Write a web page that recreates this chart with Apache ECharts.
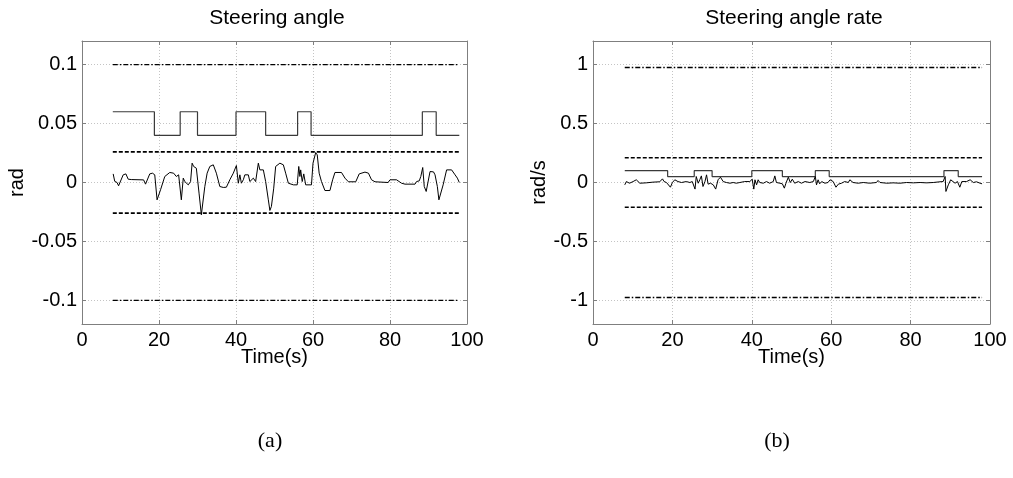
<!DOCTYPE html>
<html>
<head>
<meta charset="utf-8">
<script src="https://cdn.jsdelivr.net/npm/echarts@6/dist/echarts.min.js"></script>
<style>
  html, body { margin: 0; padding: 0; background: #fff; }
  #chart { width: 1013px; height: 478px; }
</style>
</head>
<body>
<div id="chart"></div>
<script>
// Steering angle signal (rad) over time (s)
const angleTime = [8.1, 8.5, 9.1, 9.5, 10, 10.7, 11.4, 12, 12.8, 16, 16.5, 17, 17.6, 18.3, 18.9, 19.5, 19.8, 20.4, 21.5, 22.8, 23.8, 24.5, 25.1, 25.8, 26.3, 26.7, 27.6, 28.2, 28.6, 29, 29.7, 30.4, 31, 31.3, 31.9, 32.5, 33.2, 34.1, 34.9, 35.8, 36.7, 37.5, 38.4, 39.3, 40.1, 40.6, 41, 41.4, 41.9, 42.3, 43.2, 43.6, 44.5, 45.1, 45.8, 46.2, 47.1, 47.7, 48.4, 48.8, 49.2, 49.8, 50.3, 51.4, 52.3, 52.9, 53.6, 54.9, 55.9, 56.3, 56.6, 56.8, 57.2, 57.6, 58.1, 59.6, 60, 60.7, 61.1, 61.6, 62.2, 63.1, 64.4, 65.1, 65.7, 67.4, 68.3, 69.2, 71.1, 72, 73.5, 74.4, 75.2, 76.1, 79.5, 80, 81.7, 83, 83.9, 86.5, 86.9, 87.6, 88, 88.5, 88.9, 89.4, 89.8, 90.4, 91.3, 91.7, 92.3, 92.7, 93.2, 93.8, 94.7, 96, 96.9, 97.5, 98];
const angleValue = [0.0073, 0.001, 0.0, -0.0028, -0.002, 0.0065, 0.0073, 0.0028, 0.0025, 0.0022, -0.0014, -0.0014, 0.0073, 0.0079, 0.0065, -0.0147, -0.015, -0.0062, 0.0051, 0.0085, 0.0079, 0.0051, 0.0065, -0.0147, 0.0037, 0.0008, -0.002, 0.0008, 0.0164, 0.0136, 0.0121, -0.009, -0.0274, -0.026, -0.0034, 0.0079, 0.0136, 0.015, 0.0079, -0.0034, -0.0042, -0.004, 0.0023, 0.0079, 0.0144, -0.0006, 0.0065, -0.0006, 0.0023, 0.0065, 0.0065, 0.0008, 0.0037, 0.0008, 0.0164, 0.0107, 0.0107, 0.0008, -0.0147, -0.0237, -0.0203, -0.0048, 0.0136, 0.0164, 0.015, 0.0079, -0.0006, -0.002, -0.002, 0.0136, 0.0051, 0.0107, 0.0008, 0.0073, -0.002, -0.002, 0.0164, 0.0254, 0.0234, 0.0079, 0.0008, -0.0068, -0.0068, 0.0023, 0.0085, 0.0085, 0.0037, 0.0006, 0.0006, 0.0073, 0.0088, 0.0079, 0.0023, 0.0006, 0, 0.0023, 0.0023, -0.0006, -0.0014, -0.0014, 0.0008, 0.0014, 0.0051, 0.0127, -0.0034, -0.0076, -0.0062, 0.0093, 0.009, 0.0065, -0.0034, -0.0147, -0.0133, -0.002, 0.0107, 0.0107, 0.0065, 0.0037, 0];

// Steering angle rate signal (rad/s) over time (s)
const rateTime = [8, 8.4, 9.2, 10.1, 10.9, 11.8, 13.4, 15.1, 16.8, 17.5, 17.9, 18.5, 18.9, 19.5, 20, 20.6, 21.4, 22.3, 23.5, 24.4, 25, 25.5, 25.7, 26, 26.5, 26.9, 27.3, 27.7, 28.2, 28.6, 29, 29.6, 30.3, 30.9, 31.5, 32.1, 32.8, 33.6, 34.5, 35.3, 36.1, 37, 38.2, 38.7, 39.5, 40.1, 40.5, 40.8, 41.2, 41.6, 42, 42.9, 43.7, 44.5, 45.4, 45.8, 46.2, 47.1, 47.7, 48.2, 48.6, 49.2, 49.7, 50.2, 50.8, 51.7, 52.5, 53.4, 54.6, 55.5, 56, 56.3, 56.7, 57.1, 57.6, 58.4, 59.2, 59.7, 60.1, 60.5, 61.2, 61.8, 62.6, 63.4, 64.3, 64.7, 65.1, 65.5, 66.8, 68.1, 69.7, 71.4, 71.8, 72.3, 74, 75.6, 77.3, 79, 80.7, 82.4, 84, 85.7, 87.4, 88.2, 88.7, 88.9, 89.5, 90.1, 90.6, 91.2, 91.8, 92.4, 92.9, 93.3, 94.1, 95, 95.8, 96.6, 97.5, 98];
const rateValue = [-0.02, 0.008, -0.006, 0.008, 0.023, -0.006, -0.003, 0.003, 0.006, 0.031, 0.008, 0, 0.014, -0.04, 0, 0.023, 0.008, 0, 0.008, 0, 0.008, 0, -0.056, 0.051, -0.006, 0.023, 0.056, -0.034, 0.008, 0.065, -0.014, -0.006, -0.02, -0.056, 0.023, 0.045, 0.008, 0, -0.006, 0, -0.006, 0, 0.008, 0.023, 0.008, 0.028, -0.056, 0.023, -0.02, 0.023, 0, -0.006, 0.008, -0.006, 0.008, 0.056, 0, -0.006, -0.011, -0.048, -0.006, 0.045, 0, 0.028, -0.006, 0.008, -0.006, 0.008, 0, 0.008, 0.051, -0.02, 0.023, -0.011, 0.008, -0.006, 0, 0.023, 0.037, 0.008, -0.04, -0.014, -0.006, 0.008, 0, 0.023, 0.023, 0, -0.006, 0, -0.006, 0, 0.017, 0, -0.006, -0.003, -0.006, 0, -0.003, 0, -0.003, 0, 0.006, 0.008, 0.051, -0.076, -0.02, 0.023, 0.008, -0.006, 0.008, -0.04, 0.008, 0.023, 0.008, 0.023, 0, 0.006, -0.006, -0.011];

// Piecewise-constant schedules (value holds until the next switch time)
const switchTimes = [8, 18.8, 25.5, 30, 40, 47.7, 56, 59.5, 88.4, 92, 98];
const angleSchedule = [0.06, 0.04, 0.06, 0.04, 0.06, 0.04, 0.06, 0.04, 0.06, 0.04, 0.04];
const rateSchedule = [0.1, 0.05, 0.1, 0.05, 0.1, 0.05, 0.1, 0.05, 0.1, 0.05, 0.05];

// Constraint levels and the time span they are drawn over
const boundSpan = [8, 98];
const angleHardLimit = 0.1;
const angleSoftLimit = 0.026;
const rateHardLimit = 0.975;
const rateSoftLimit = 0.21;

// Axis ticks
const timeTicks = [0, 20, 40, 60, 80, 100];
const angleTicks = [-0.1, -0.05, 0, 0.05, 0.1];
const rateTicks = [-1, -0.5, 0, 0.5, 1];

const titles = ['Steering angle', 'Steering angle rate'];
const captions = ['(a)', '(b)'];

const SANS = '"Liberation Sans", Arial, sans-serif';
const SERIF = '"Liberation Serif", "Times New Roman", serif';
const BOX = '#7f7f7f';
const TICK_FONT = 20;

const zip = (xs, ys) => xs.map((x, i) => [x, ys[i]]);
const flat = (v) => boundSpan.map(t => [t, v]);

function xAxes(gridIndex) {
  const common = {
    type: 'value', gridIndex, min: timeTicks[0], max: timeTicks[timeTicks.length - 1],
    interval: timeTicks[1] - timeTicks[0],
    axisLine: { show: true, onZero: false, lineStyle: { color: BOX, width: 1 } },
    axisTick: { show: true, inside: true, length: 4, lineStyle: { color: BOX } },
  };
  return [
    Object.assign({}, common, {
      position: 'bottom',
      axisLabel: { show: true, color: '#000', fontFamily: SANS, fontSize: TICK_FONT, margin: 6 },
      splitLine: { show: true, lineStyle: { color: '#c4c4c4', type: [1, 2], width: 1 } },
      name: 'Time(s)', nameLocation: 'middle', nameGap: 23, nameMoveOverlap: false,
      nameTextStyle: { color: '#000', fontFamily: SANS, fontSize: TICK_FONT }
    }),
    Object.assign({}, common, {
      position: 'top', axisLabel: { show: false }, splitLine: { show: false }
    })
  ];
}

function yAxes(gridIndex, lim, ticks, name, nameGap) {
  const common = {
    type: 'value', gridIndex, min: -lim, max: lim,
    axisLine: { show: true, onZero: false, lineStyle: { color: BOX, width: 1 } },
    axisTick: { show: true, inside: true, length: 4, customValues: ticks, lineStyle: { color: BOX } },
  };
  return [
    Object.assign({}, common, {
      position: 'left',
      axisLabel: { show: true, customValues: ticks, color: '#000', fontFamily: SANS, fontSize: TICK_FONT, margin: 5 },
      splitLine: { show: true, lineStyle: { color: '#c4c4c4', type: [1, 2], width: 1 } },
      name, nameLocation: 'middle', nameGap,
      nameTextStyle: { color: '#000', fontFamily: SANS, fontSize: TICK_FONT }
    }),
    Object.assign({}, common, {
      position: 'right', axisLabel: { show: false, customValues: ticks }, splitLine: { show: false }
    })
  ];
}

function line(data, xi, yi, style) {
  return {
    type: 'line', data, xAxisIndex: xi, yAxisIndex: yi,
    showSymbol: false, symbol: 'none', silent: true, animation: false,
    lineStyle: style, step: style.step || false
  };
}

function label(text, x, y, font, size) {
  return {
    type: 'text', x, y, silent: true,
    style: { text, fill: '#000', font: size + 'px ' + font, textAlign: 'center', textVerticalAlign: 'middle' }
  };
}

const signalStyle = { color: '#000', width: 1 };
const scheduleStyle = { color: '#3a3a3a', width: 1.2, step: 'end' };
const softStyle = { color: '#000', width: 1.6, type: [4, 2] };
const hardStyle = { color: '#000', width: 1.4, type: [5, 2, 1.5, 2] };

const option = {
  backgroundColor: '#fff',
  animation: false,
  graphic: [
    label(titles[0], 277, 18, SANS, 21),
    label(titles[1], 794, 18, SANS, 21),
    label(captions[0], 270, 441, SERIF, 22),
    label(captions[1], 777, 441, SERIF, 22)
  ],
  grid: [
    { left: 82, top: 41, width: 385, height: 283, containLabel: false },
    { left: 593, top: 41, width: 397, height: 283, containLabel: false }
  ],
  xAxis: [...xAxes(0), ...xAxes(1)],
  yAxis: [
    ...yAxes(0, 0.12, angleTicks, 'rad', 52),
    ...yAxes(1, 1.2, rateTicks, 'rad/s', 39)
  ],
  series: [
    // Steering angle panel
    line(flat(angleHardLimit), 0, 0, hardStyle),
    line(flat(-angleHardLimit), 0, 0, hardStyle),
    line(flat(angleSoftLimit), 0, 0, softStyle),
    line(flat(-angleSoftLimit), 0, 0, softStyle),
    line(zip(switchTimes, angleSchedule), 0, 0, scheduleStyle),
    line(zip(angleTime, angleValue), 0, 0, signalStyle),
    // Steering angle rate panel
    line(flat(rateHardLimit), 2, 2, hardStyle),
    line(flat(-rateHardLimit), 2, 2, hardStyle),
    line(flat(rateSoftLimit), 2, 2, softStyle),
    line(flat(-rateSoftLimit), 2, 2, softStyle),
    line(zip(switchTimes, rateSchedule), 2, 2, scheduleStyle),
    line(zip(rateTime, rateValue), 2, 2, signalStyle)
  ]
};

const chart = echarts.init(document.getElementById('chart'), null, { renderer: 'canvas' });
chart.setOption(option);
</script>
</body>
</html>
